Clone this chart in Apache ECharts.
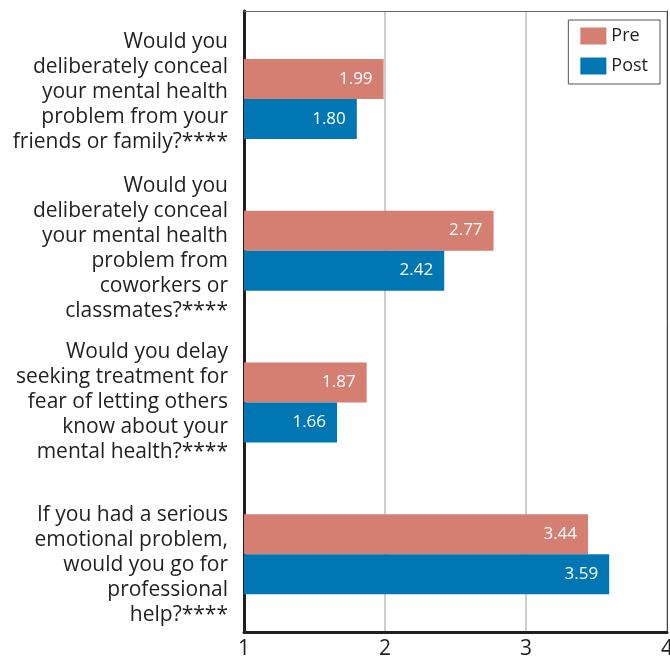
<!DOCTYPE html>
<html>
<head>
<meta charset="utf-8">
<script src="https://cdn.jsdelivr.net/npm/echarts@6/dist/echarts.min.js"></script>
<style>
html,body{margin:0;padding:0;background:#fff;}
#chart{width:670px;height:663px;}
</style>
</head>
<body>
<div id="chart"></div>
<script>
const categories = [
  "Would you\ndeliberately conceal\nyour mental health\nproblem from your\nfriends or family?****",
  "Would you\ndeliberately conceal\nyour mental health\nproblem from\ncoworkers or\nclassmates?****",
  "Would you delay\nseeking treatment for\nfear of letting others\nknow about your\nmental health?****",
  "If you had a serious\nemotional problem,\nwould you go for\nprofessional\nhelp?****"
];
const preValues = [1.99, 2.77, 1.87, 3.44];
const postValues = [1.80, 2.42, 1.66, 3.59];
const xTicks = [1, 2, 3, 4];

const FONT = "Open Sans";
const TXT = "#231f20";
// label styling: extra spacer line (above / below) to nudge each category label vertically
const labelNudge = [{below: 14}, {below: 4}, {}, {above: 22}];

function fmtLabel(value, idx) {
  const n = labelNudge[idx] || {};
  let s = value;
  if (n.above) s = '{a' + idx + '| }\n' + s;
  if (n.below) s = s + '\n{b' + idx + '| }';
  return s;
}
const rich = {};
labelNudge.forEach((n, i) => {
  if (n.above) rich['a' + i] = {fontSize: 4, lineHeight: n.above, height: n.above};
  if (n.below) rich['b' + i] = {fontSize: 4, lineHeight: n.below, height: n.below};
});

const chart = echarts.init(document.getElementById('chart'), null, {renderer: 'canvas'});
chart.setOption({
  animation: false,
  textStyle: {fontFamily: FONT},
  grid: [
    {left: 244, right: 3, top: 11, bottom: 31, containLabel: false, outerBoundsMode: 'none'},
    {left: 244, right: 3, top: 23, bottom: 33, containLabel: false, outerBoundsMode: 'none'}
  ],
  xAxis: [
    {
      gridIndex: 0, type: 'value', min: xTicks[0], max: xTicks[xTicks.length - 1], interval: 1,
      axisLine: {show: true, onZero: false, lineStyle: {color: TXT, width: 3}},
      axisTick: {show: false},
      splitLine: {show: true, lineStyle: {color: '#bdbdbd', width: 1.5}},
      axisLabel: {fontSize: 21, color: TXT, margin: 7, fontFamily: FONT}
    },
    {
      gridIndex: 0, type: 'value', position: 'top', min: xTicks[0], max: xTicks[xTicks.length - 1],
      axisLine: {show: true, onZero: false, lineStyle: {color: '#666', width: 1.2}},
      axisTick: {show: false}, axisLabel: {show: false}, splitLine: {show: false}
    },
    {
      gridIndex: 1, type: 'value', min: xTicks[0], max: xTicks[xTicks.length - 1],
      show: false
    }
  ],
  yAxis: [
    {
      gridIndex: 0, type: 'value', min: 0, max: 1,
      axisLine: {show: true, onZero: false, lineStyle: {color: TXT, width: 3}},
      axisTick: {show: false}, axisLabel: {show: false}, splitLine: {show: false}
    },
    {
      gridIndex: 0, type: 'value', position: 'right', min: 0, max: 1,
      axisLine: {show: true, onZero: false, lineStyle: {color: '#444', width: 1}},
      axisTick: {show: false}, axisLabel: {show: false}, splitLine: {show: false}
    },
    {
      gridIndex: 1, type: 'category', inverse: true, data: categories,
      axisLine: {show: false}, axisTick: {show: false}, splitLine: {show: false},
      axisLabel: {fontSize: 21, lineHeight: 25, color: TXT, margin: 16, align: 'right', fontFamily: FONT,
        formatter: fmtLabel, rich: rich}
    }
  ],
  legend: {
    orient: 'vertical', right: 10, top: 20,
    borderColor: '#555', borderWidth: 1, backgroundColor: '#fff',
    padding: [7, 12, 9, 12],
    itemWidth: 26, itemHeight: 17, itemGap: 12,
    icon: 'rect',
    textStyle: {fontSize: 18, color: TXT, fontFamily: FONT},
    data: ['Pre', 'Post']
  },
  series: [
    {
      name: 'Pre', type: 'bar', xAxisIndex: 2, yAxisIndex: 2, data: preValues,
      barWidth: 40, barGap: '0%',
      itemStyle: {color: '#d57f73'},
      label: {show: true, position: 'insideRight', distance: 11, color: '#fff', fontSize: 17, fontFamily: FONT,
        formatter: p => p.value.toFixed(2)}
    },
    {
      name: 'Post', type: 'bar', xAxisIndex: 2, yAxisIndex: 2, data: postValues,
      barWidth: 40, barGap: '0%',
      itemStyle: {color: '#0077b3'},
      label: {show: true, position: 'insideRight', distance: 11, color: '#fff', fontSize: 17, fontFamily: FONT,
        formatter: p => p.value.toFixed(2)}
    }
  ]
});
</script>
</body>
</html>
